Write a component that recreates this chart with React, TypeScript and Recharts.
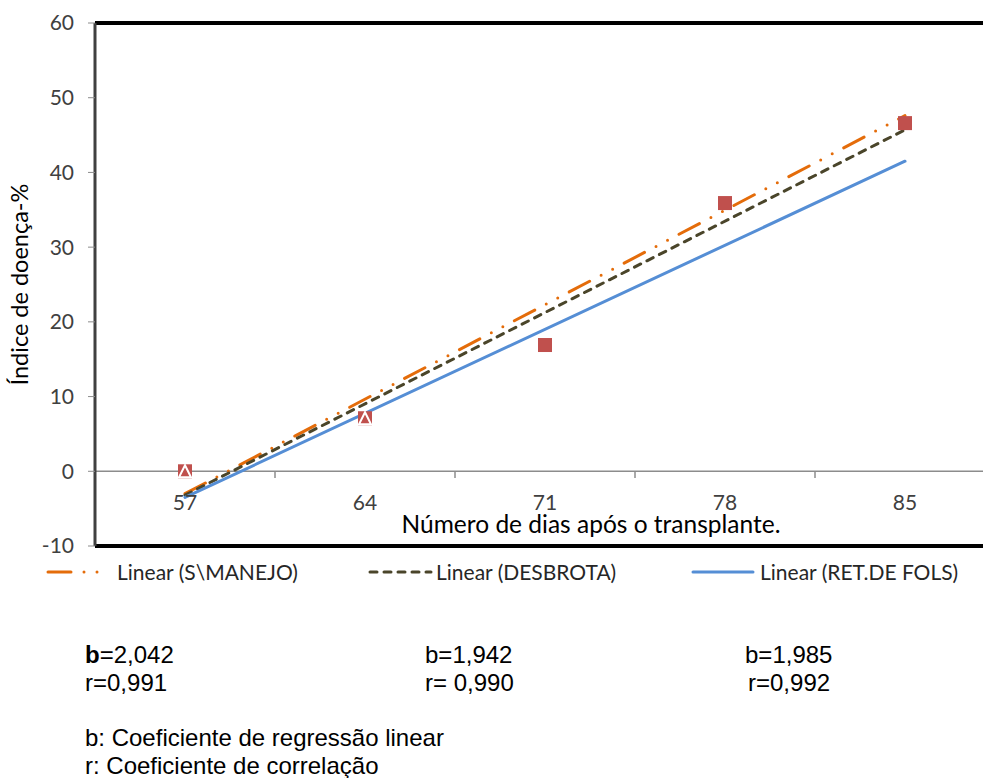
import React from 'react';
import { ComposedChart, Line, XAxis, YAxis, ReferenceLine, Label } from 'recharts';

// ---- data ----
const days = [57, 64, 71, 78, 85];
const observedIndex = [0, 7.1, 16.9, 35.9, 46.6];
const overlapMarks = [0, 7.1, null, null, null];
const trendSManejo = [-3.0, null, null, null, 47.6];
const trendDesbrota = [-3.2, null, null, null, 45.7];
const trendRetFols = [-3.5, null, null, null, 41.5];
const yTicks = [-10, 0, 10, 20, 30, 40, 50, 60];
const seriesNames = ['Linear (S\\MANEJO)', 'Linear (DESBROTA)', 'Linear (RET.DE FOLS)'];
const coefB = ['2,042', '1,942', '1,985'];
const coefR = ['0,991', ' 0,990', '0,992'];

// ---- styles ----
const seriesStyles = [
  { stroke: '#E46C0A', dash: '23 13 0 13 0 13' },
  { stroke: '#4A452A', dash: '7 7' },
  { stroke: '#558ED5', dash: undefined as string | undefined },
];
const legendSampleLeft = [48, 370, 693];
const legendSampleWidth = [60, 63, 62];
const legendTextLeft = [117, 436, 760];
const coefLeft = [85, 425, 745];

const FONT = 'Lato, "Noto Sans", sans-serif';
const NOTE_FONT = '"Liberation Sans", Arial, sans-serif';

const SquareDot = (props: any) => {
  const { cx, cy, value, index } = props;
  if (value == null || cx == null || cy == null) return <g key={`sq-${index}`} />;
  return <rect key={`sq-${index}`} x={cx - 7} y={cy - 7} width={14} height={14} fill="#C0504D" />;
};

const TriangleDot = (props: any) => {
  const { cx, cy, value, index } = props;
  if (value == null || cx == null || cy == null) return <g key={`tr-${index}`} />;
  return (
    <path
      key={`tr-${index}`}
      d={`M${cx},${cy - 6} L${cx + 6},${cy + 6} L${cx - 6},${cy + 6} Z`}
      fill="none"
      stroke="#ffffff"
      strokeWidth={2}
    />
  );
};

const XTick = (props: any) => {
  const { x, y, payload } = props;
  return (
    <text x={x} y={y} dy={-36} textAnchor="middle" fill="#404040" fontSize={21} fontFamily={FONT}>
      {payload.value}
    </text>
  );
};

export default function App() {
  const data = days.map((d, i) => ({
    day: d,
    observed: observedIndex[i],
    overlap: overlapMarks[i],
    sManejo: trendSManejo[i],
    desbrota: trendDesbrota[i],
    retFols: trendRetFols[i],
  }));
  const half = (days[1] - days[0]) / 2;
  const xDomain = [days[0] - half, days[days.length - 1] + half];
  const boundaries = days.slice(0, -1).map((d, i) => (d + days[i + 1]) / 2);
  const trendKeys = ['sManejo', 'desbrota', 'retFols'];

  return (
    <div
      style={{
        position: 'fixed',
        left: 0,
        top: 0,
        width: 983,
        height: 778,
        overflow: 'hidden',
        background: '#ffffff',
      }}
    >
      <ComposedChart width={1010} height={600} data={data} margin={{ top: 23, right: 15, left: 0, bottom: 24 }}>
        <XAxis
          dataKey="day"
          type="number"
          domain={xDomain}
          ticks={days}
          interval={0}
          allowDataOverflow
          height={30}
          axisLine={false}
          tickLine={false}
          tickSize={0}
          tickMargin={0}
          tick={<XTick />}
        >
          <Label
            value="Número de dias após o transplante."
            position="insideTop"
            offset={-30}
            dx={46}
            fill="#000000"
            fontSize={24.5}
            fontFamily={FONT}
          />
        </XAxis>
        <YAxis
          domain={[-10, 60]}
          ticks={yTicks}
          interval={0}
          width={95}
          tickSize={7}
          tickMargin={14}
          axisLine={{ stroke: '#404040', strokeWidth: 3 }}
          tickLine={{ stroke: '#8c8c8c' }}
          tick={{ fill: '#404040', fontSize: 21, fontFamily: FONT }}
        >
          <Label
            value="Índice de doença-%"
            angle={-90}
            position="insideLeft"
            offset={20}
            style={{ textAnchor: 'middle' }}
            fill="#000000"
            fontSize={23.5}
            fontFamily={FONT}
          />
        </YAxis>
        <ReferenceLine y={0} stroke="#8c8c8c" strokeWidth={1.5} />
        {boundaries.map((b) => (
          <ReferenceLine
            key={`b-${b}`}
            segment={[
              { x: b, y: 0 },
              { x: b, y: -0.9 },
            ]}
            stroke="#8c8c8c"
            strokeWidth={1.5}
          />
        ))}
        <ReferenceLine y={60} stroke="#000000" strokeWidth={4} />
        <ReferenceLine y={-10} stroke="#000000" strokeWidth={4} />
        <Line
          dataKey="observed"
          stroke="none"
          dot={<SquareDot />}
          activeDot={false}
          isAnimationActive={false}
        />
        <Line
          dataKey="overlap"
          stroke="none"
          dot={<TriangleDot />}
          activeDot={false}
          isAnimationActive={false}
        />
        {trendKeys.map((k, i) => (
          <Line
            key={k}
            dataKey={k}
            name={seriesNames[i]}
            connectNulls
            stroke={seriesStyles[i].stroke}
            strokeWidth={3}
            strokeDasharray={seriesStyles[i].dash}
            strokeLinecap="round"
            dot={false}
            activeDot={false}
            isAnimationActive={false}
          />
        ))}
      </ComposedChart>

      {seriesNames.map((name, i) => (
        <React.Fragment key={name}>
          <svg
            width={legendSampleWidth[i] + 4}
            height={12}
            style={{ position: 'absolute', left: legendSampleLeft[i] - 2, top: 566 }}
          >
            <line
              x1={2}
              x2={legendSampleWidth[i]}
              y1={6}
              y2={6}
              stroke={seriesStyles[i].stroke}
              strokeWidth={3}
              strokeDasharray={seriesStyles[i].dash}
              strokeLinecap="round"
            />
          </svg>
          <div
            style={{
              position: 'absolute',
              left: legendTextLeft[i],
              top: 558,
              fontFamily: FONT,
              fontSize: 21,
              lineHeight: '28px',
              color: '#262626',
              whiteSpace: 'nowrap',
            }}
          >
            {name}
          </div>
        </React.Fragment>
      ))}

      {coefB.map((b, i) => (
        <div
          key={`coef-${i}`}
          style={{
            position: 'absolute',
            left: coefLeft[i],
            top: 641,
            fontFamily: NOTE_FONT,
            fontSize: 24,
            lineHeight: '28px',
            color: '#000000',
            whiteSpace: 'pre',
          }}
        >
          <div>
            {i === 0 ? <b>b</b> : 'b'}={b}
          </div>
          <div style={{ paddingLeft: i === 2 ? 3 : 0 }}>r={coefR[i]}</div>
        </div>
      ))}

      <div
        style={{
          position: 'absolute',
          left: 85,
          top: 724,
          fontFamily: NOTE_FONT,
          fontSize: 24,
          lineHeight: '28px',
          color: '#000000',
          whiteSpace: 'nowrap',
        }}
      >
        <div>b: Coeficiente de regressão linear</div>
        <div>r: Coeficiente de correlação</div>
      </div>
    </div>
  );
}
